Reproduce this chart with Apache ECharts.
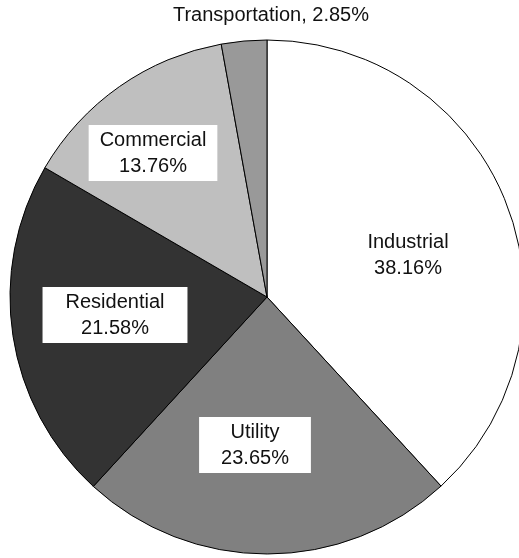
<!DOCTYPE html>
<html>
<head>
<meta charset="utf-8">
<script src="https://cdn.jsdelivr.net/npm/echarts@6/dist/echarts.min.js"></script>
<style>
  html, body { margin: 0; padding: 0; background: #ffffff; }
  #chart { width: 519px; height: 558px; }
</style>
</head>
<body>
<div id="chart"></div>
<script>
// Energy use by sector, percent of total
const sectors = ['Industrial', 'Utility', 'Residential', 'Commercial', 'Transportation'];
const shares = [38.16, 23.65, 21.58, 13.76, 2.85];
const fills = ['#ffffff', '#808080', '#333333', '#bfbfbf', '#999999'];

// Where each sector's label sits, and how its white box is padded
const labelSpots = {
  Industrial:     { x: 408, y: 255, pad: [0, 0], bg: 'transparent' },
  Utility:        { x: 255, y: 445, pad: [2, 22], bg: '#ffffff' },
  Residential:    { x: 115, y: 315, pad: [2, 23], bg: '#ffffff' },
  Commercial:     { x: 153, y: 153, pad: [2, 11], bg: '#ffffff' },
  Transportation: { x: 271, y: 15,  pad: [0, 0], bg: 'transparent' }
};

const fontFamily = '"Liberation Sans", Arial, Helvetica, sans-serif';

const pieData = sectors.map((name, i) => {
  const spot = labelSpots[name];
  const outside = name === 'Transportation';
  return {
    name: name,
    value: shares[i],
    itemStyle: { color: fills[i] },
    label: {
      position: outside ? 'outside' : 'inside',
      formatter: outside ? '{b}, {c}%' : '{b}\n{c}%',
      backgroundColor: spot.bg,
      padding: spot.pad
    },
    labelLine: { show: false }
  };
});

const chart = echarts.init(document.getElementById('chart'), null, { renderer: 'canvas' });
chart.setOption({
  animation: false,
  backgroundColor: '#ffffff',
  series: [{
    type: 'pie',
    center: [267, 297],
    radius: 257,
    startAngle: 90,
    clockwise: true,
    avoidLabelOverlap: false,
    silent: true,
    itemStyle: { borderColor: '#000000', borderWidth: 1 },
    label: {
      show: true,
      color: '#111111',
      fontFamily: fontFamily,
      fontSize: 20,
      lineHeight: 26,
      align: 'center',
      verticalAlign: 'middle'
    },
    labelLine: { show: false },
    labelLayout: function (params) {
      const spot = labelSpots[sectors[params.dataIndex]];
      return { x: spot.x, y: spot.y, align: 'center', verticalAlign: 'middle' };
    },
    data: pieData
  }]
});
</script>
</body>
</html>
